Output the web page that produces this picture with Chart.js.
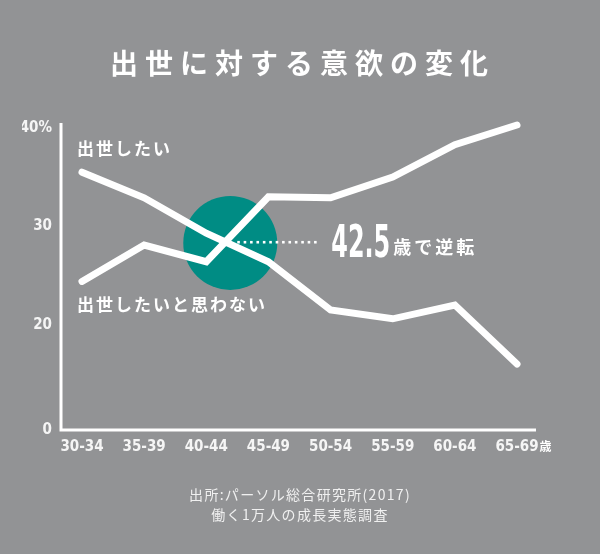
<!DOCTYPE html>
<html lang="ja">
<head>
    <meta charset="UTF-8">
    <title>出世に対する意欲の変化</title>
    <script src="https://cdn.jsdelivr.net/npm/chart.js@4"></script>
    <style>
        body {
            margin: 0;
            background: #929395;
        }
        .wrap {
            position: relative;
            width: 600px;
            height: 554px;
            background: #929395;
            font-family: "Noto Sans CJK JP", sans-serif;
            color: #ffffff;
        }
        canvas {
            position: absolute;
            left: 0;
            top: 0;
        }
        .title {
            position: absolute;
            left: 0;
            top: 46px;
            width: 600px;
            text-align: center;
            font-size: 28px;
            line-height: 32px;
            font-weight: bold;
            letter-spacing: 7px;
            padding-left: 5px;
            box-sizing: border-box;
        }
        .source {
            position: absolute;
            left: 0;
            top: 484px;
            width: 600px;
            text-align: center;
            font-size: 14px;
            line-height: 20px;
            letter-spacing: 1.3px;
            color: #f0f0f0;
        }
    </style>
</head>
<body>
<div class="wrap">
    <canvas id="myChart" width="600" height="554"></canvas>
    <div class="title">出世に対する意欲の変化</div>
    <div class="source">出所:パーソル総合研究所(2017)<br>働く1万人の成長実態調査</div>
</div>

<script>
// age groups
var ageGroups = ['30-34', '35-39', '40-44', '45-49', '50-54', '55-59', '60-64', '65-69'];
// % who want promotion
var wantPromotion = [35.5, 32.9, 29.3, 26.4, 21.5, 20.6, 22.0, 16.0];
// % who don't want promotion
var noPromotion = [24.4, 28.1, 26.4, 33.0, 32.9, 35.0, 38.3, 40.3];
var yTicks = [20, 30, 40];
var yBottom = 9.3;   // broken axis, bottom is labelled 0
var yTop = 40.5;

var numFont = "'DejaVu Sans Condensed', sans-serif";
var jpFont = "'Noto Sans CJK JP', sans-serif";

function crossing(chart) {
    var xs = chart.scales.x, ys = chart.scales.y;
    for (var i = 0; i < wantPromotion.length - 1; i++) {
        var d0 = wantPromotion[i] - noPromotion[i];
        var d1 = wantPromotion[i + 1] - noPromotion[i + 1];
        if (d0 * d1 < 0) {
            var t = d0 / (d0 - d1);
            var x0 = xs.getPixelForValue(i), x1 = xs.getPixelForValue(i + 1);
            var v = wantPromotion[i] + t * (wantPromotion[i + 1] - wantPromotion[i]);
            return { x: x0 + t * (x1 - x0), y: ys.getPixelForValue(v) };
        }
    }
    return null;
}

var decorPlugin = {
    id: 'decor',
    beforeDatasetsDraw: function (chart) {
        var ctx = chart.ctx, a = chart.chartArea;
        ctx.save();
        // axes
        ctx.strokeStyle = '#ffffff';
        ctx.lineWidth = 3;
        ctx.beginPath();
        ctx.moveTo(a.left - 21, a.top);
        ctx.lineTo(a.left - 21, a.bottom);
        ctx.lineTo(a.right + 19, a.bottom);
        ctx.stroke();
        // teal circle at the cross point
        var c = crossing(chart);
        if (c) {
            ctx.fillStyle = '#008c84';
            ctx.beginPath();
            ctx.arc(c.x + 5, c.y + 1, 47, 0, Math.PI * 2);
            ctx.fill();
        }
        ctx.restore();
    },
    afterDatasetsDraw: function (chart) {
        var ctx = chart.ctx, xs = chart.scales.x, ys = chart.scales.y;
        ctx.save();
        ctx.fillStyle = '#ffffff';
        var c = crossing(chart);
        if (c) {
            // dotted line
            for (var dx = 12; dx <= 90; dx += 6.4) {
                ctx.fillRect(c.x + dx, c.y - 1, 2.6, 2.6);
            }
            // 42.5
            ctx.font = 'bold 44px ' + numFont;
            ctx.textBaseline = 'alphabetic';
            ctx.textAlign = 'left';
            var w = ctx.measureText('42.5').width;
            ctx.save();
            ctx.translate(c.x + 106, c.y + 15);
            ctx.scale(59 / w, 1);
            ctx.fillText('42.5', 0, 0);
            ctx.restore();
            ctx.font = 'bold 18px ' + jpFont;
            ctx.letterSpacing = '3px';
            ctx.fillText('歳で逆転', c.x + 168, c.y + 12);
        }
        // series labels
        ctx.font = 'bold 17px ' + jpFont;
        ctx.letterSpacing = '2px';
        ctx.fillText('出世したい', xs.getPixelForValue(0) - 5, ys.getPixelForValue(wantPromotion[0]) - 17);
        ctx.fillText('出世したいと思わない', xs.getPixelForValue(0) - 5, ys.getPixelForValue(noPromotion[0]) + 30);
        // 歳 after the last age group
        ctx.letterSpacing = '0px';
        ctx.font = 'bold 15px ' + numFont;
        var last = ageGroups.length - 1;
        var lw = ctx.measureText(ageGroups[last]).width;
        ctx.font = 'bold 12px ' + jpFont;
        ctx.fillText('歳', xs.getPixelForValue(last) + lw / 2 + 1, chart.chartArea.bottom + 21);
        ctx.restore();
    }
};

function makeChart() {
    var ctx = document.getElementById('myChart').getContext('2d');
    var lineStyle = {
        borderColor: '#ffffff',
        borderWidth: 7,
        pointRadius: 0,
        tension: 0,
        fill: false,
        borderCapStyle: 'round',
        borderJoinStyle: 'miter',
        clip: false
    };
    new Chart(ctx, {
        type: 'line',
        data: {
            labels: ageGroups,
            datasets: [
                Object.assign({ label: '出世したい', data: wantPromotion }, lineStyle),
                Object.assign({ label: '出世したいと思わない', data: noPromotion }, lineStyle)
            ]
        },
        options: {
            responsive: false,
            animation: false,
            events: [],
            layout: { padding: { top: 123, right: 83, left: 22, bottom: 0 } },
            plugins: {
                legend: { display: false },
                tooltip: { enabled: false },
                title: { display: false }
            },
            scales: {
                x: {
                    offset: false,
                    grid: { display: false, drawTicks: false },
                    border: { display: false },
                    ticks: {
                        color: '#f5f5f5',
                        padding: 8,
                        maxRotation: 0,
                        autoSkip: false,
                        font: { family: numFont, size: 15, weight: 'bold' }
                    },
                    afterFit: function (s) { s.height = 124; }
                },
                y: {
                    min: yBottom,
                    max: yTop,
                    grid: { display: false, drawTicks: false },
                    border: { display: false },
                    afterBuildTicks: function (s) {
                        s.ticks = [{ value: yBottom }].concat(yTicks.map(function (v) { return { value: v }; }));
                    },
                    ticks: {
                        color: '#f5f5f5',
                        padding: 30,
                        font: { family: numFont, size: 15, weight: 'bold' },
                        callback: function (v) {
                            if (v < 20) return '0';
                            if (v === 40) return '40%';
                            return v;
                        }
                    },
                    afterFit: function (s) { s.width = 60; }
                }
            }
        },
        plugins: [decorPlugin]
    });
}
makeChart();
</script>
</body>
</html>
